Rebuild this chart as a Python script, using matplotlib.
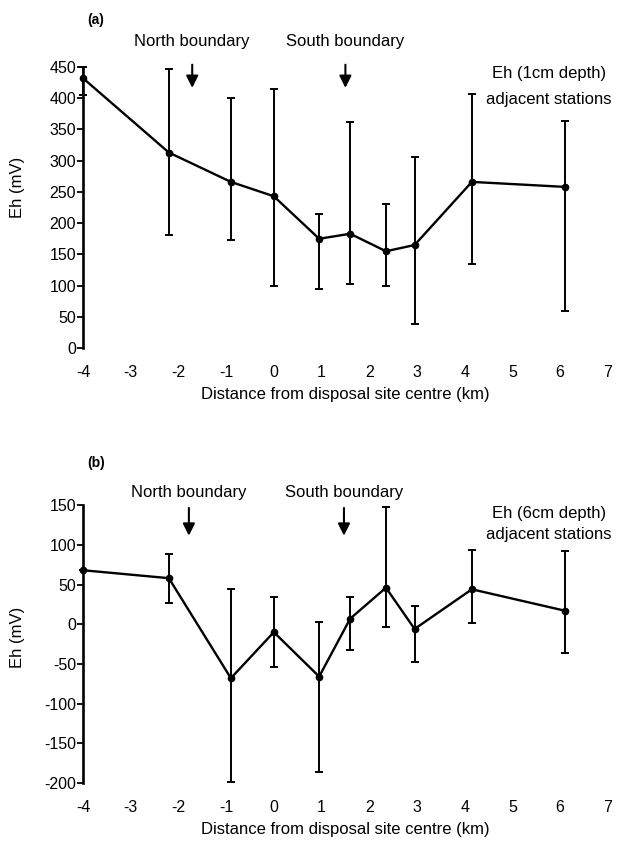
import matplotlib
matplotlib.use('Agg')
from matplotlib import pyplot as plt

plt.rcParams['font.family'] = ['Liberation Sans', 'DejaVu Sans']
plt.rcParams['axes.unicode_minus'] = False

# station distances from disposal site centre (km)
dist = [-4, -2.2, -0.9, 0, 0.95, 1.6, 2.35, 2.95, 4.15, 6.1]

# (a) Eh at 1 cm depth
eh1 = [432, 313, 266, 243, 175, 183, 155, 165, 266, 258]
eh1_hi = [450, 447, 400, 414, 214, 362, 231, 306, 406, 364]
eh1_lo = [405, 181, 173, 100, 95, 103, 100, 39, 134, 59]

# (b) Eh at 6 cm depth
eh6 = [68, 58, -68, -10, -66, 7, 46, -6, 44, 17]
eh6_hi = [68, 88, 44, 34, 3, 34, 148, 23, 93, 92]
eh6_lo = [68, 27, -199, -54, -186, -32, -3, -47, 2, -36]

xticks = [-4, -3, -2, -1, 0, 1, 2, 3, 4, 5, 6, 7]

fig = plt.figure(figsize=(6.19, 8.47), dpi=100)
ax1 = fig.add_axes([0.134, 0.589, 0.848, 0.332])
ax2 = fig.add_axes([0.134, 0.0756, 0.848, 0.328])


def draw(ax, y, hi, lo, ylim, yticks, lines, tag, north, south,
         arrow_y, text_y, lab_y, tag_y, ylab_y):
    yerr = [[v - l for v, l in zip(y, lo)], [h - v for v, h in zip(y, hi)]]
    ax.errorbar(dist, y, yerr=yerr, color='black', lw=1.7, marker='o', ms=4.5,
                elinewidth=1.4, capsize=3, capthick=1.4, clip_on=False)
    ax.set_xlim(-4, 7)
    ax.set_ylim(*ylim)
    ax.set_yticks(yticks)
    ax.set_xticks(xticks)
    ax.spines[['top', 'right', 'bottom']].set_visible(False)
    ax.spines['left'].set_linewidth(1.9)
    ax.tick_params(axis='x', length=0, pad=12, labelsize=11.5)
    ax.tick_params(axis='y', length=4, width=1.3, direction='out', pad=1, labelsize=11.5)
    ax.set_xlabel('Distance from disposal site centre (km)', fontsize=12, labelpad=5)
    ax.set_ylabel('Eh (mV)', fontsize=12)
    ax.yaxis.set_label_coords(-0.11, ylab_y)
    # boundary arrows
    for xb, name in [(north, 'North boundary'), (south, 'South boundary')]:
        ax.annotate('', xy=(xb, arrow_y[1]), xytext=(xb, arrow_y[0]),
                    arrowprops=dict(arrowstyle='-|>', color='black', lw=1.5,
                                    mutation_scale=18), annotation_clip=False)
        ax.text(xb, text_y, name, ha='center', va='center', fontsize=12,
                clip_on=False)
    for txt, yy in zip(lines, lab_y):
        ax.text(5.77, yy, txt, ha='center', va='center', fontsize=12,
                clip_on=False)
    ax.text(-3.73, tag_y, tag, ha='center', va='center', fontsize=10,
            fontweight='bold', clip_on=False)


draw(ax1, eh1, eh1_hi, eh1_lo, (0, 450), range(0, 451, 50),
     ['Eh (1cm depth)', 'adjacent stations'], '(a)', -1.71, 1.5,
     (458, 412), 490, (440, 398), 525, 0.57)
draw(ax2, eh6, eh6_hi, eh6_lo, (-200, 150), range(-200, 151, 50),
     ['Eh (6cm depth)', 'adjacent stations'], '(b)', -1.78, 1.47,
     (150, 108), 166, (139, 113), 203, 0.525)

fig.savefig('out.png', dpi=100)
